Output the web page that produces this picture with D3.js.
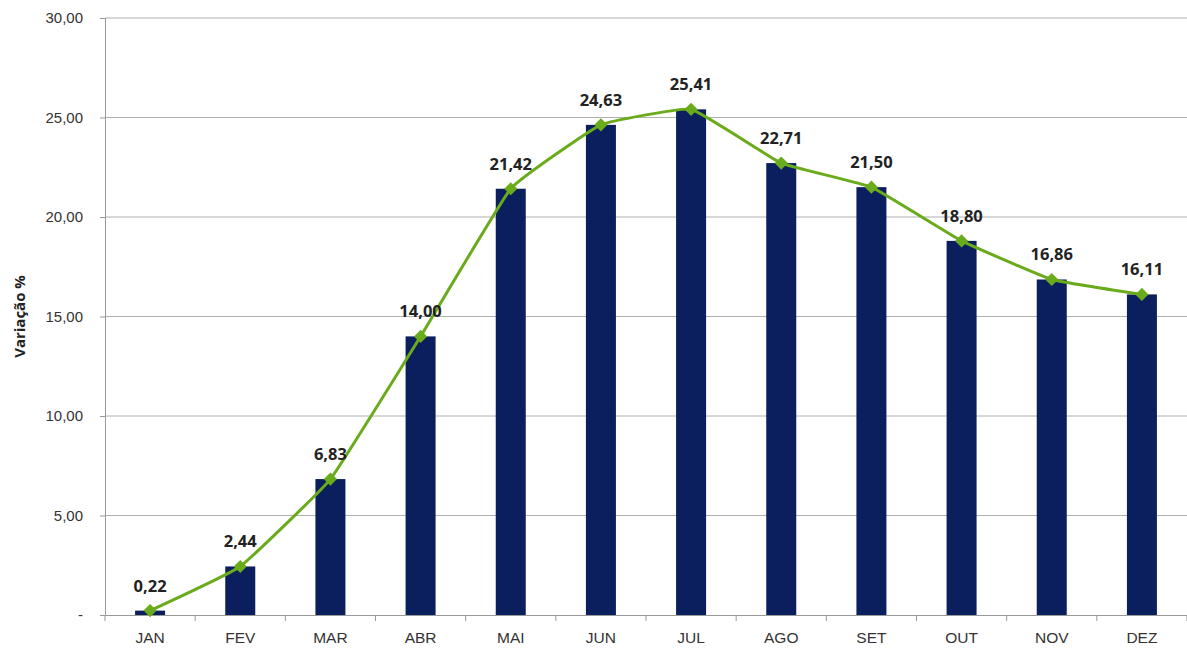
<!DOCTYPE html>
<html>
<head>
<meta charset="utf-8">
<script src="https://cdnjs.cloudflare.com/ajax/libs/d3/7.8.5/d3.min.js"></script>
<style>
  html, body { margin: 0; padding: 0; background: #fff; }
  svg { display: block; font-family: "Open Sans", "Liberation Sans", sans-serif; }
</style>
</head>
<body>
<svg id="chart" width="1187" height="650"></svg>
<script>
// Monthly cumulative variation (%)
const months = ["JAN", "FEV", "MAR", "ABR", "MAI", "JUN", "JUL", "AGO", "SET", "OUT", "NOV", "DEZ"];
const variation = [0.22, 2.44, 6.83, 14.00, 21.42, 24.63, 25.41, 22.71, 21.50, 18.80, 16.86, 16.11];
const yTicks = [0, 5, 10, 15, 20, 25, 30];

const svg = d3.select("#chart");
const margin = { top: 18, right: 0, bottom: 35, left: 105 };
const width = 1187, height = 650;

const x = d3.scaleBand().domain(months).range([margin.left, width - margin.right]);
const y = d3.scaleLinear().domain([0, 30]).range([height - margin.bottom, margin.top]);

const fmt = v => v === 0 ? "-" : d3.format(".2f")(v).replace(".", ",");

// horizontal grid lines
svg.append("g")
  .selectAll("line")
  .data(yTicks.filter(t => t > 0))
  .join("line")
  .attr("x1", margin.left).attr("x2", width)
  .attr("y1", d => y(d)).attr("y2", d => y(d))
  .attr("stroke", "#b0b0b0").attr("stroke-width", 1);

// y axis
const yAxis = svg.append("g")
  .attr("transform", `translate(${margin.left},0)`)
  .call(d3.axisLeft(y).tickValues(yTicks).tickFormat(fmt).tickSize(5).tickPadding(17));
yAxis.select(".domain").attr("stroke", "#999");
yAxis.selectAll(".tick line").attr("stroke", "#999");
yAxis.selectAll("text").attr("fill", "#333").attr("font-size", 15);

// x axis
const xAxis = svg.append("g")
  .attr("transform", `translate(0,${y(0)})`)
  .call(d3.axisBottom(x).tickSize(0).tickPadding(17));
xAxis.select(".domain").attr("stroke", "#999");
xAxis.selectAll("text").attr("fill", "#333").attr("font-size", 15.5);
// tick marks between categories
svg.append("g")
  .selectAll("line")
  .data(months.concat(["end"]))
  .join("line")
  .attr("x1", (d, i) => margin.left + i * x.step())
  .attr("x2", (d, i) => margin.left + i * x.step())
  .attr("y1", y(0)).attr("y2", y(0) + 6)
  .attr("stroke", "#999");

// bars
const barW = 30;
svg.append("g")
  .selectAll("rect")
  .data(variation)
  .join("rect")
  .attr("x", (d, i) => x(months[i]) + x.bandwidth() / 2 - barW / 2)
  .attr("y", d => y(d))
  .attr("width", barW)
  .attr("height", d => y(0) - y(d))
  .attr("fill", "#0b1f5e");

// smoothed line
const cx = (d, i) => x(months[i]) + x.bandwidth() / 2;
const line = d3.line().x(cx).y(d => y(d)).curve(d3.curveCardinal.tension(0.7));
svg.append("path")
  .datum(variation)
  .attr("d", line)
  .attr("fill", "none")
  .attr("stroke", "#6aab1c")
  .attr("stroke-width", 3);

// diamond markers
const diamond = d3.symbol().type(d3.symbolDiamond2).size(110);
svg.append("g")
  .selectAll("path")
  .data(variation)
  .join("path")
  .attr("d", diamond)
  .attr("transform", (d, i) => `translate(${cx(d, i)},${y(d)})`)
  .attr("fill", "#6aab1c");

// value labels
svg.append("g")
  .selectAll("text")
  .data(variation)
  .join("text")
  .attr("x", cx)
  .attr("y", d => y(d) - 19)
  .attr("text-anchor", "middle")
  .attr("font-size", 16.5)
  .attr("font-weight", "bold")
  .attr("fill", "#222")
  .text(fmt);

// y axis title
svg.append("text")
  .attr("transform", `translate(25,${y(15)}) rotate(-90)`)
  .attr("text-anchor", "middle")
  .attr("font-size", 15)
  .attr("font-weight", "bold")
  .attr("fill", "#222")
  .text("Variação %");
</script>
</body>
</html>
